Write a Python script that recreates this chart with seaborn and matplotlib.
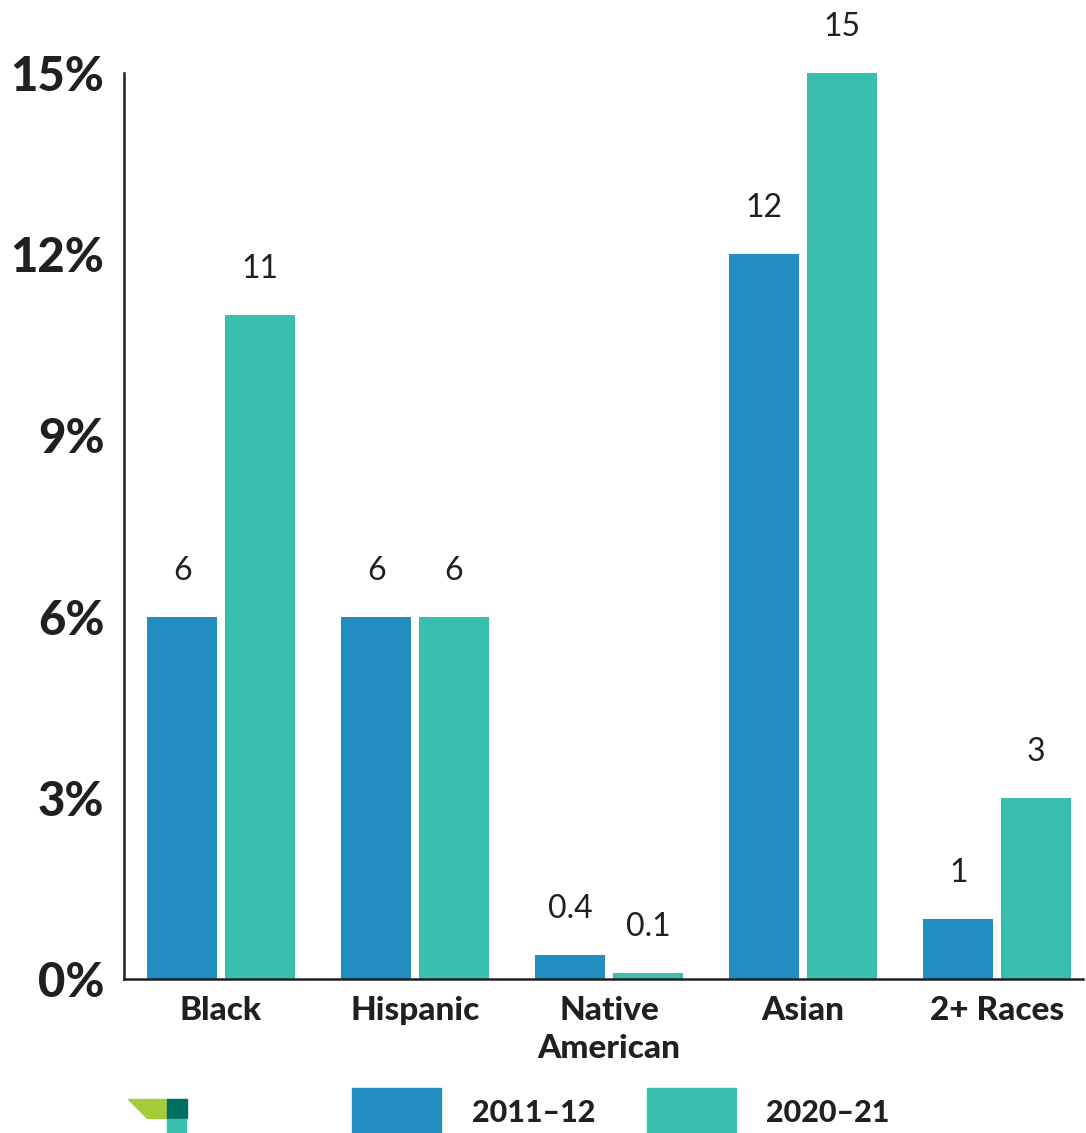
import matplotlib
matplotlib.use("Agg")
import matplotlib.pyplot as plt
import matplotlib.patches as mpatches
import seaborn as sns
import pandas as pd
from matplotlib.ticker import FixedLocator

categories = ["Black", "Hispanic", "Native\nAmerican", "Asian", "2+ Races"]
series_names = ["2011\u201312", "2020\u201321"]
values_2011 = [6, 6, 0.4, 12, 1]
values_2020 = [11, 6, 0.1, 15, 3]
value_labels_2011 = ["6", "6", "0.4", "12", "1"]
value_labels_2020 = ["11", "6", "0.1", "15", "3"]
y_ticks = [0, 3, 6, 9, 12, 15]
y_tick_labels = ["0%", "3%", "6%", "9%", "12%", "15%"]
colors = ["#218DC0", "#38BFAE"]

df = pd.DataFrame({
    "category": categories * 2,
    "period": [series_names[0]] * 5 + [series_names[1]] * 5,
    "value": values_2011 + values_2020,
})

sns.set_theme(style="white")
plt.rcParams["font.family"] = ["Lato", "DejaVu Sans"]
ink = "#231F20"

W, H = 1086, 1133
fig = plt.figure(figsize=(W / 100, H / 100), dpi=100)
ax = fig.add_axes([124 / W, 154 / H, (1083 - 124) / W, (979 - 73) / H])

sns.barplot(data=df, x="category", y="value", hue="period", order=categories,
            hue_order=series_names, palette=colors, width=0.8, gap=0.1,
            saturation=1, ax=ax, legend=False, edgecolor="none")

ax.set_ylim(0, 15)
ax.set_xlim(-0.5, 4.443)
ax.set_xlabel("")
ax.set_ylabel("")
for s in ["top", "right"]:
    ax.spines[s].set_visible(False)
for s in ["left", "bottom"]:
    ax.spines[s].set_color(ink)
    ax.spines[s].set_linewidth(1.8)

ax.set_yticks(y_ticks)
ax.set_yticklabels(y_tick_labels, fontsize=34, fontweight="black", color=ink)
ax.tick_params(axis="y", direction="in", length=16.5, width=1.8, color=ink, pad=14)
ax.set_xticks(range(len(categories)))
ax.set_xticklabels(categories, fontsize=24, fontweight="black", color=ink, linespacing=1.4)
ax.tick_params(axis="x", which="major", length=0, pad=12)
ax.xaxis.set_minor_locator(FixedLocator([0.5, 1.5, 2.5, 3.5]))
ax.tick_params(axis="x", which="minor", direction="in", length=18, width=1.8, color=ink)

# value labels
containers = ax.containers
for cont, labs in zip(containers, [value_labels_2011, value_labels_2020]):
    for bar, lab in zip(cont, labs):
        ax.annotate(lab, (bar.get_x() + bar.get_width() / 2, bar.get_height()),
                    xytext=(0, 26.5), textcoords="offset points", ha="center",
                    va="baseline", fontsize=23, fontweight="normal", color=ink,
                    annotation_clip=False, family=["Lato", "DejaVu Sans"])

# legend
handles = [mpatches.Patch(color=c, label=n) for c, n in zip(colors, series_names)]
fig.legend(handles=handles, loc="center", bbox_to_anchor=(621 / W, 1 - 1112 / H),
           ncol=2, frameon=False, prop={"weight": "black", "size": 22},
           handlelength=2.9, handleheight=2.0, handletextpad=1.0, columnspacing=1.7,
           labelcolor=ink)

# logo fragment (decoration)
def px(x, y):
    return (x / W, 1 - y / H)
fig.patches.append(mpatches.Polygon([px(128, 1099), px(167, 1099), px(167, 1118), px(147, 1118)],
                                    closed=True, transform=fig.transFigure, color="#A4CC3A"))
fig.patches.append(mpatches.Polygon([px(167, 1099), px(187, 1099), px(187, 1118), px(167, 1118)],
                                    closed=True, transform=fig.transFigure, color="#006F62"))
fig.patches.append(mpatches.Polygon([px(167, 1119), px(186, 1119), px(186, 1133), px(167, 1133)],
                                    closed=True, transform=fig.transFigure, color="#3ABFAE"))

fig.savefig("out.png", dpi=100)
